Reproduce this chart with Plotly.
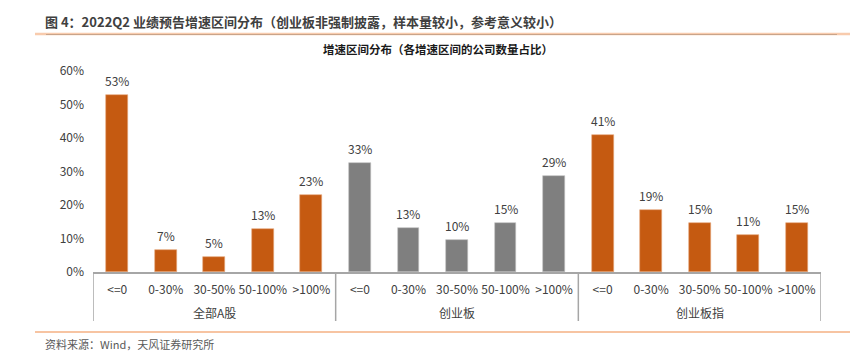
import plotly.graph_objects as go

# ---- data ----
categories = ["<=0", "0-30%", "30-50%", "50-100%", ">100%"]
groups = ["全部A股", "创业板", "创业板指"]
all_a = [52.9, 6.6, 4.6, 12.7, 23.1]
chinext = [32.6, 13.1, 9.7, 14.7, 28.7]
chinext_index = [41.0, 18.6, 14.7, 11.0, 14.7]
y_ticks = [0, 10, 20, 30, 40, 50, 60]
y_tick_labels = ["0%", "10%", "20%", "30%", "40%", "50%", "60%"]

series = [all_a, chinext, chinext_index]
colors = ["#C55A11", "#7F7F7F", "#C55A11"]

FONT = "Noto Sans CJK SC"
TXT = "#404040"

# plot area in pixels
L, R, T, B = 93, 821, 71, 272
W, H = R - L, B - T


def px(p):
    return (p - L) / W


def py(p):
    return (B - p) / H


fig = go.Figure()
annotations = []
n = len(categories)
for gi, vals in enumerate(series):
    xs = [gi * n + i for i in range(n)]
    fig.add_trace(go.Bar(
        x=xs, y=vals, width=0.45,
        marker=dict(color=colors[gi], line=dict(width=0.6, color="#E6A77E" if gi != 1 else "#BFBFBF")),
        showlegend=False, hoverinfo="x+y",
    ))
    for xv, v in zip(xs, vals):
        annotations.append(dict(x=xv, y=v, xref="x", yref="y", text=f"{v:.0f}%",
                                showarrow=False, xanchor="center", yanchor="bottom", yshift=4,
                                font=dict(family=FONT, size=12, color=TXT)))

tickvals = list(range(n * len(groups)))
ticktext = categories * len(groups)

shapes = []
# group dividers
for k in range(len(groups) + 1):
    xv = k * n - 0.5
    shapes.append(dict(type="line", xref="x", yref="paper", x0=xv, x1=xv,
                       y0=0, y1=py(321), line=dict(color="#A6A6A6", width=1.5)))
# header rules
shapes.append(dict(type="line", xref="paper", yref="paper", x0=px(35), x1=px(850),
                   y0=py(34), y1=py(34), line=dict(color="#F8CBAD", width=2.5)))
shapes.append(dict(type="line", xref="paper", yref="paper", x0=px(46), x1=px(837),
                   y0=py(34.5), y1=py(34.5), line=dict(color="#C9A48A", width=1)))
# footer rule
shapes.append(dict(type="line", xref="paper", yref="paper", x0=px(35), x1=px(850),
                   y0=py(332), y1=py(332), line=dict(color="#F4B183", width=1.5)))

for gi, g in enumerate(groups):
    annotations.append(dict(x=gi * n + (n - 1) / 2, y=py(312), xref="x", yref="paper",
                            text=g, showarrow=False, xanchor="center", yanchor="middle",
                            font=dict(family=FONT, size=12, color=TXT)))
annotations.append(dict(x=px(43), y=py(21), xref="paper", yref="paper",
                        text="<b>图 4：2022Q2 业绩预告增速区间分布（创业板非强制披露，样本量较小，参考意义较小）</b>",
                        showarrow=False, xanchor="left", yanchor="middle",
                        font=dict(family=FONT, size=13, color="#404040")))
annotations.append(dict(x=px(438), y=py(49), xref="paper", yref="paper",
                        text="<b>增速区间分布（各增速区间的公司数量占比）</b>",
                        showarrow=False, xanchor="center", yanchor="middle",
                        font=dict(family=FONT, size=11.5, color="#1A1A1A")))
annotations.append(dict(x=px(43), y=py(344), xref="paper", yref="paper",
                        text="资料来源：Wind，天风证券研究所",
                        showarrow=False, xanchor="left", yanchor="middle",
                        font=dict(family=FONT, size=11, color="#595959")))

fig.update_layout(
    width=862, height=360,
    margin=dict(l=L, r=862 - R, t=T, b=360 - B, pad=0),
    paper_bgcolor="white", plot_bgcolor="white",
    bargap=0, barmode="overlay",
    shapes=shapes, annotations=annotations,
    font=dict(family=FONT, color=TXT),
)
fig.update_xaxes(
    range=[-0.5, n * len(groups) - 0.5], tickvals=tickvals, ticktext=ticktext,
    showgrid=False, zeroline=False, showline=True, linecolor="#A6A6A6", linewidth=1.5,
    ticks="", tickfont=dict(family=FONT, size=12, color=TXT), ticklabelstandoff=6,
)
fig.update_yaxes(
    range=[0, 60], tickvals=y_ticks, ticktext=y_tick_labels, showgrid=False, zeroline=False,
    showline=False, ticks="", tickfont=dict(family=FONT, size=12, color=TXT),
    ticklabelstandoff=8,
)

fig.write_html("out.html", config={"displayModeBar": False},
               post_script="document.body.style.margin='0';")
